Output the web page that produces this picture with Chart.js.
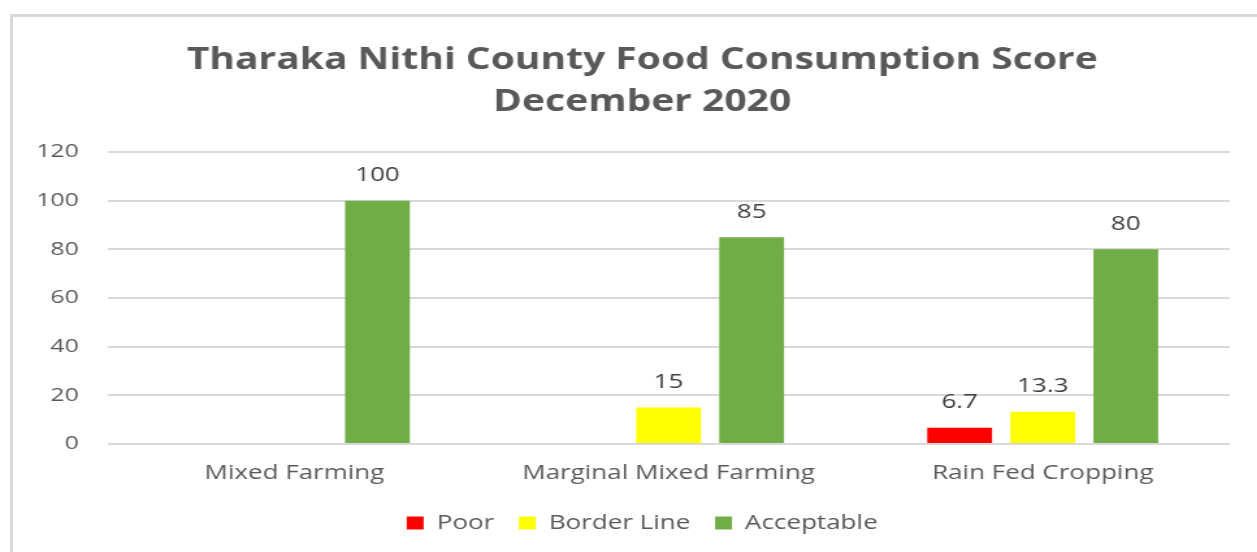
<!DOCTYPE html>
<html>
<head>
<meta charset="utf-8">
<script src="https://cdn.jsdelivr.net/npm/chart.js@4.4.1/dist/chart.umd.min.js"></script>
<style>
  html, body { margin: 0; padding: 0; background: #fff; overflow: hidden; }
  #frame {
    position: absolute; left: 10px; top: 14px; width: 1260px; height: 560px;
    border-left: 3px solid #d9d9d9; border-top: 3px solid #d9d9d9;
    pointer-events: none;
  }
  /* chart is laid out narrow and stretched wide, like the exported image */
  #wrap {
    position: absolute; left: 0; top: 0; width: 967px; height: 552px;
    transform: scaleX(1.3); transform-origin: left top;
  }
</style>
</head>
<body>
<div id="wrap"><canvas id="fcsChart"></canvas></div>
<div id="frame"></div>
<script>
// Food consumption score by livelihood zone
const zones = ['Mixed Farming', 'Marginal Mixed Farming', 'Rain Fed Cropping'];
const poor = [null, null, 6.7];
const borderLine = [null, 15, 13.3];
const acceptable = [100, 85, 80];
const yTicks = [0, 20, 40, 60, 80, 100, 120];

const textGrey = '#595959';
const fontFamily = "'Open Sans', 'DejaVu Sans', sans-serif";

// value labels above each bar
const barLabels = {
    id: 'barLabels',
    afterDatasetsDraw(chart) {
        const ctx = chart.ctx;
        ctx.save();
        ctx.font = `20px ${fontFamily}`;
        ctx.fillStyle = '#404040';
        ctx.textAlign = 'center';
        ctx.textBaseline = 'bottom';
        chart.data.datasets.forEach((ds, i) => {
            chart.getDatasetMeta(i).data.forEach((bar, j) => {
                const v = ds.data[j];
                if (v === null || v === undefined) return;
                ctx.fillText(String(v), bar.x, bar.y - 15);
            });
        });
        ctx.restore();
    }
};

new Chart(document.getElementById('fcsChart'), {
    type: 'bar',
    data: {
        labels: zones,
        datasets: [
            { label: 'Poor', data: poor, backgroundColor: '#ff0000' },
            { label: 'Border Line', data: borderLine, backgroundColor: '#ffff00' },
            { label: 'Acceptable', data: acceptable, backgroundColor: '#70ad47' }
        ]
    },
    options: {
        responsive: true,
        maintainAspectRatio: false,
        animation: false,
        datasets: { bar: { categoryPercentage: 0.666, barPercentage: 0.78 } },
        // extra left padding keeps title and legend centred on the frame;
        // the y axis gives that room back in afterFit
        layout: { padding: { left: 42, right: 21, top: 39, bottom: 9 } },
        scales: {
            y: {
                min: 0, max: 120,
                afterBuildTicks: axis => { axis.ticks = yTicks.map(v => ({ value: v })); },
                afterFit: axis => {
                    axis.width -= 36;
                    // labels now hang outside the narrowed box, so don't clip them
                    axis._computeLabelArea = () => undefined;
                },
                ticks: { color: textGrey, font: { size: 19, family: fontFamily }, padding: 22 },
                grid: { color: '#d9d9d9', lineWidth: 2, drawTicks: false },
                border: { display: false }
            },
            x: {
                ticks: { color: textGrey, font: { size: 20, family: fontFamily }, padding: 9 },
                grid: { display: false },
                border: { display: false }
            }
        },
        plugins: {
            title: {
                display: true,
                text: ['Tharaka Nithi County Food Consumption Score', 'December 2020'],
                color: textGrey,
                font: { size: 30, weight: 'bold', family: fontFamily, lineHeight: 1.4 },
                padding: { top: 0, bottom: 29 }
            },
            legend: {
                position: 'bottom',
                labels: {
                    color: textGrey,
                    font: { size: 20, family: fontFamily },
                    boxWidth: 13, boxHeight: 13,
                    padding: 19
                }
            },
            tooltip: { enabled: false }
        }
    },
    plugins: [barLabels]
});
</script>
</body>
</html>
